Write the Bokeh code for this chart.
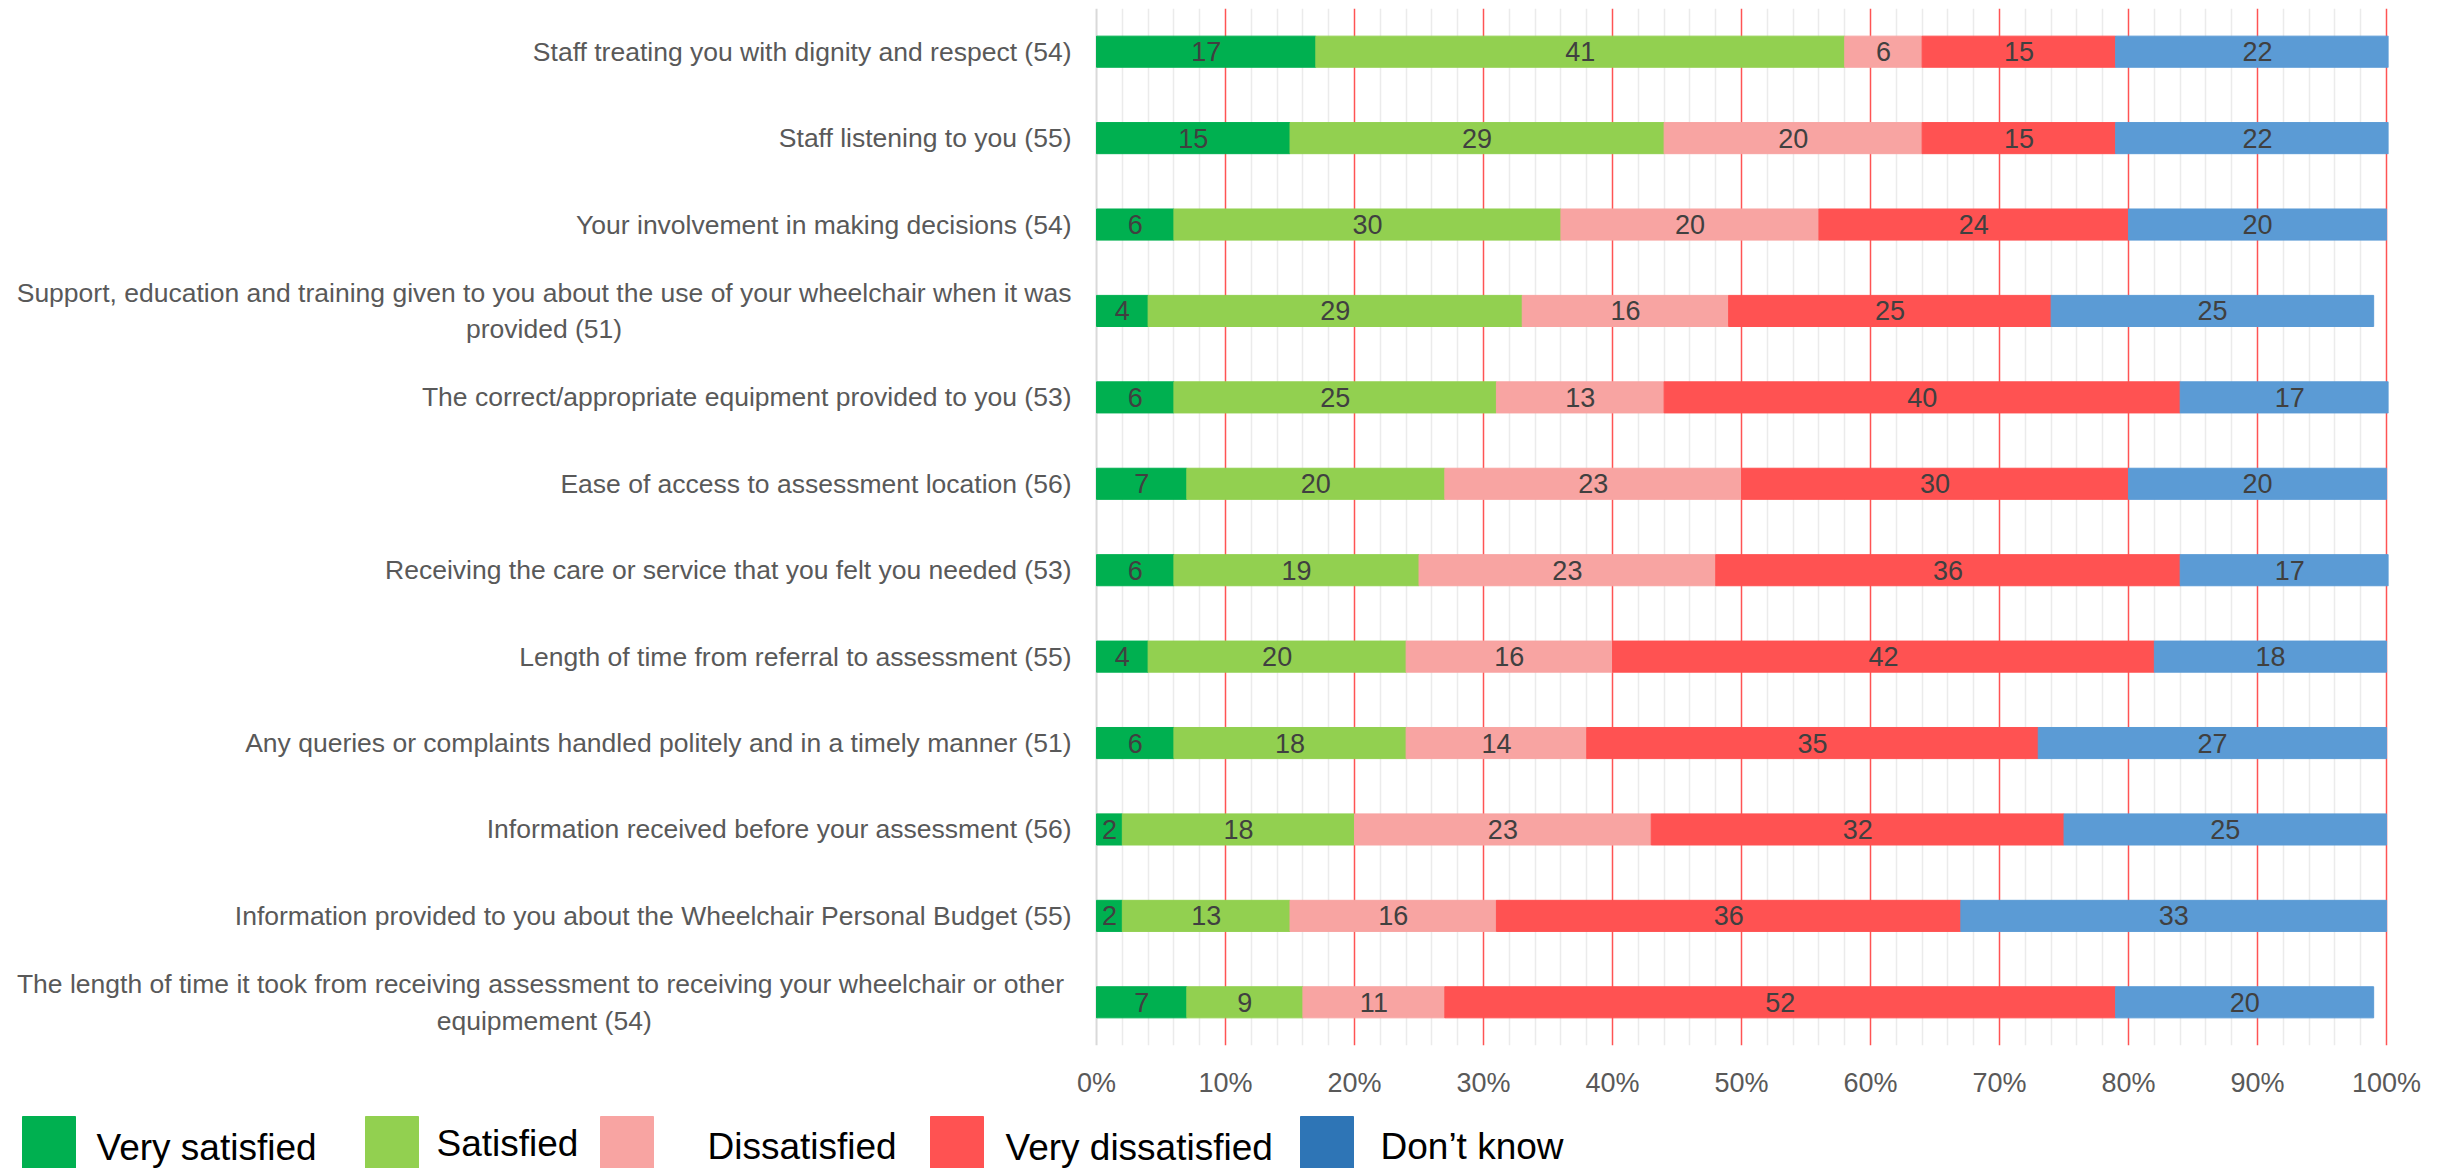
from bokeh.plotting import figure
from bokeh.models import (ColumnDataSource, FactorRange, Range1d, FixedTicker,
                          PrintfTickFormatter, Span)
from bokeh.layouts import column
from bokeh.core.properties import value
from bokeh.embed import file_html
from bokeh.resources import INLINE

# ---------------- data ----------------
categories = [
    "Staff treating you with dignity and respect (54)",
    "Staff listening to you (55)",
    "Your involvement in making decisions (54)",
    "Support, education and training given to you about the use of your wheelchair when it was\nprovided (51)",
    "The correct/appropriate equipment provided to you (53)",
    "Ease of access to assessment location (56)",
    "Receiving the care or service that you felt you needed (53)",
    "Length of time from referral to assessment (55)",
    "Any queries or complaints handled politely and in a timely manner (51)",
    "Information received before your assessment (56)",
    "Information provided to you about the Wheelchair Personal Budget (55)",
    "The length of time it took from receiving assessment to receiving your  wheelchair or other\nequipmement (54)",
]
series_names = ["Very satisfied", "Satisfied", "Dissatisfied", "Very dissatisfied", "Don\u2019t know"]
very_satisfied = [17, 15, 6, 4, 6, 7, 6, 4, 6, 2, 2, 7]
satisfied = [41, 29, 30, 29, 25, 20, 19, 20, 18, 18, 13, 9]
dissatisfied = [6, 20, 20, 16, 13, 23, 23, 16, 14, 23, 16, 11]
very_dissatisfied = [15, 15, 24, 25, 40, 30, 36, 42, 35, 32, 36, 52]
dont_know = [22, 22, 20, 25, 17, 20, 17, 18, 27, 25, 33, 20]
x_ticks = [0, 10, 20, 30, 40, 50, 60, 70, 80, 90, 100]

series_values = [very_satisfied, satisfied, dissatisfied, very_dissatisfied, dont_know]
bar_colors = ["#00B050", "#92D050", "#F8A4A2", "#FF5252", "#5B9BD5"]
legend_colors = ["#00B050", "#92D050", "#F8A4A2", "#FF5252", "#2E75B6"]

FONT = value("Liberation Sans")

# ---------------- main figure ----------------
p = figure(width=2450, height=1100,
           y_range=FactorRange(factors=categories[::-1]),
           x_range=Range1d(-84.96, 100.15),
           y_axis_location=None,
           output_backend="svg", toolbar_location=None,
           min_border_left=0, min_border_right=62,
           min_border_top=8, min_border_bottom=52)
p.outline_line_color = None
p.background_fill_color = "white"
p.border_fill_color = "white"

p.ygrid.visible = False
p.xgrid.ticker = FixedTicker(ticks=x_ticks[1:],
                             minor_ticks=[t for t in range(2, 100, 2) if t % 10 != 0])
p.xgrid.grid_line_color = "#FF5454"
p.xgrid.grid_line_width = 1.5
p.xgrid.minor_grid_line_color = "#EBEBEB"
p.xgrid.minor_grid_line_width = 1.5

p.add_layout(Span(location=0, dimension="height", line_color="#D9D9D9",
                  line_width=2, level="underlay"))

p.xaxis.ticker = FixedTicker(ticks=x_ticks)
p.xaxis.formatter = PrintfTickFormatter(format="%d%%")
p.xaxis.axis_line_color = None
p.xaxis.major_tick_line_color = None
p.xaxis.minor_tick_line_color = None
p.xaxis.major_label_standoff = 16
p.xaxis.major_label_text_font = "Liberation Sans"
p.xaxis.major_label_text_font_size = "27px"
p.xaxis.major_label_text_color = "#595959"

data = {"cat": categories}
for name, vals in zip(series_names, series_values):
    data[name] = vals
source = ColumnDataSource(data)
p.hbar_stack(series_names, y="cat", height=0.36, color=bar_colors, source=source)

# value labels in the middle of each segment
lx, ly, lt = [], [], []
for j, cat in enumerate(categories):
    left = 0
    for vals in series_values:
        v = vals[j]
        lx.append(left + v / 2)
        ly.append(cat)
        lt.append(str(v))
        left += v
p.text(x=lx, y=ly, text=lt, text_align="center", text_baseline="middle",
       text_font=FONT, text_font_size="27px", text_color="#404040")

# category labels
p.text(x=[-1.94] * len(categories), y=categories, text=categories,
       anchor="center_right", text_align="center", text_baseline="middle",
       text_font=FONT, text_font_size="26.5px", text_color="#595959",
       text_line_height=1.22)

# ---------------- legend strip ----------------
leg = figure(width=2450, height=68, x_range=Range1d(0, 2388), y_range=Range1d(0, 68),
             x_axis_location=None, y_axis_location=None,
             output_backend="svg", toolbar_location=None,
             min_border_left=0, min_border_right=62, min_border_top=0, min_border_bottom=0)
leg.outline_line_color = None
leg.xgrid.visible = False
leg.ygrid.visible = False

sq_left = [22, 365, 600, 930, 1300]
txt_x = [96, 436, 707, 1005, 1380]
txt_y = [21, 25, 22, 21, 22]
leg.quad(left=sq_left, right=[s + 53 for s in sq_left], top=52, bottom=-20,
         color=legend_colors)
leg.text(x=txt_x, y=txt_y, text=series_names, text_baseline="alphabetic",
         text_align="left", text_font=FONT, text_font_size="37px", text_color="black")

layout = column(p, leg, spacing=0)
open("out.html", "w").write(file_html(layout, INLINE))
